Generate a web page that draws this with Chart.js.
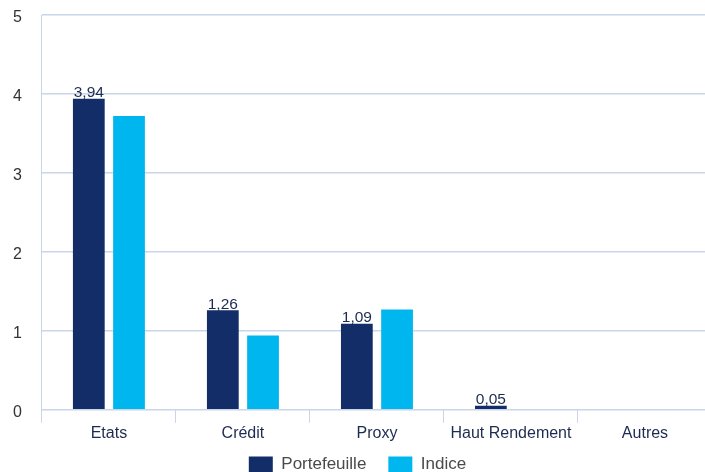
<!DOCTYPE html>
<html>
<head>
<meta charset="utf-8">
<script src="https://cdn.jsdelivr.net/npm/chart.js@4/dist/chart.umd.min.js"></script>
<style>
  html, body { margin: 0; padding: 0; overflow: hidden; background: #fff; }
  #wrap { position: absolute; left: 0; top: 0; width: 712px; height: 493px; }
</style>
</head>
<body>
<div id="wrap"><canvas id="chart"></canvas></div>
<script>
const categories = ['Etats', 'Crédit', 'Proxy', 'Haut Rendement', 'Autres'];
const portefeuille = [3.94, 1.26, 1.09, 0.05, 0];
const indice = [3.72, 0.94, 1.27, 0, 0];
const yTicks = [0, 1, 2, 3, 4, 5];

const fontFamily = '"Liberation Sans", Arial, sans-serif';
const gridColor = '#c9d5e8';
const textColor = '#1d2b50';

// writes "3,94" style labels above the Portefeuille bars
const barLabels = {
  id: 'barLabels',
  afterDatasetsDraw(chart) {
    const ctx = chart.ctx;
    const meta = chart.getDatasetMeta(0);
    ctx.save();
    ctx.font = '15.5px ' + fontFamily;
    ctx.fillStyle = textColor;
    ctx.textAlign = 'center';
    ctx.textBaseline = 'bottom';
    meta.data.forEach((bar, i) => {
      const v = portefeuille[i];
      if (!v) return;
      ctx.fillText(v.toFixed(2).replace('.', ','), bar.x, bar.y + 2);
    });
    ctx.restore();
  }
};

// legend padding is wide for the item spacing, so lift it closer to the axis
const legendNudge = {
  id: 'legendNudge',
  afterLayout(chart) {
    const lg = chart.legend;
    if (!lg) return;
    lg.top -= 10;
    lg.bottom -= 10;
    lg.left += 5;
    lg.right += 5;
  }
};

new Chart(document.getElementById('chart'), {
  type: 'bar',
  data: {
    labels: categories,
    datasets: [
      {
        label: 'Portefeuille',
        data: portefeuille,
        backgroundColor: '#122d68',
        categoryPercentage: 0.6,
        barPercentage: 0.79
      },
      {
        label: 'Indice',
        data: indice,
        backgroundColor: '#00b6ef',
        categoryPercentage: 0.6,
        barPercentage: 0.79
      }
    ]
  },
  options: {
    responsive: true,
    maintainAspectRatio: false,
    animation: false,
    layout: {
      padding: { left: -7, right: 0, top: 15, bottom: 0 }
    },
    plugins: {
      legend: {
        position: 'bottom',
        labels: {
          boxWidth: 24,
          boxHeight: 16,
          padding: 22,
          color: '#4a4a4a',
          font: { family: fontFamily, size: 17 }
        }
      },
      tooltip: { enabled: false }
    },
    scales: {
      x: {
        grid: {
          color: gridColor,
          drawOnChartArea: false,
          tickLength: 13
        },
        border: { color: gridColor },
        ticks: {
          color: textColor,
          padding: 1,
          font: { family: fontFamily, size: 16 }
        }
      },
      y: {
        min: 0,
        max: 5,
        afterBuildTicks: (axis) => {
          axis.ticks = yTicks.map(v => ({ value: v }));
        },
        afterFit: (scale) => { scale.paddingTop = 0; },
        grid: {
          color: gridColor,
          drawTicks: false,
          lineWidth: 1.5
        },
        border: { color: gridColor },
        ticks: {
          color: '#333',
          padding: 20,
          labelOffset: 2.5,
          font: { family: fontFamily, size: 16 }
        }
      }
    }
  },
  plugins: [barLabels, legendNudge]
});
</script>
</body>
</html>
